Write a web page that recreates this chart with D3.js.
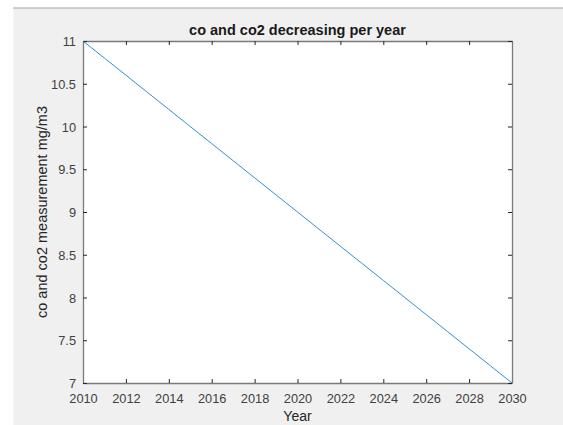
<!DOCTYPE html>
<html>
<head>
<meta charset="utf-8">
<script src="https://cdn.jsdelivr.net/npm/d3@7"></script>
<style>
html,body{margin:0;padding:0;background:#fff;}
svg{display:block;}
text{font-family:"Liberation Sans",Arial,Helvetica,sans-serif;}
</style>
</head>
<body>
<svg id="chart" width="563" height="425"></svg>
<script>
const years = [2010,2011,2012,2013,2014,2015,2016,2017,2018,2019,2020,2021,2022,2023,2024,2025,2026,2027,2028,2029,2030];
const values = [11,10.8,10.6,10.4,10.2,10,9.8,9.6,9.4,9.2,9,8.8,8.6,8.4,8.2,8,7.8,7.6,7.4,7.2,7];
const xTicks = [2010,2012,2014,2016,2018,2020,2022,2024,2026,2028,2030];
const yTicks = [7,7.5,8,8.5,9,9.5,10,10.5,11];
const titleText = "co and co2 decreasing per year";
const xLabelText = "Year";
const yLabelText = "co and co2 measurement mg/m3";

const svg = d3.select("#chart");
const W = 563, H = 425;
const m = {left:83, right:512, top:41, bottom:383};

svg.append("rect").attr("x",0).attr("y",0).attr("width",W).attr("height",H).attr("fill","#ffffff");
svg.append("rect").attr("x",13.5).attr("y",8.5).attr("width",W-13.5).attr("height",H-8.5).attr("fill","#f0f0f0");
svg.append("line").attr("x1",13).attr("x2",W).attr("y1",8).attr("y2",8).attr("stroke","#a0a0a0").attr("stroke-width",1.2);

const x = d3.scaleLinear().domain([2010,2030]).range([m.left,m.right]);
const y = d3.scaleLinear().domain([7,11]).range([m.bottom,m.top]);

svg.append("rect").attr("x",m.left).attr("y",m.top).attr("width",m.right-m.left).attr("height",m.bottom-m.top).attr("fill","#ffffff");

const tickLen = 4;
const fmt = d3.format("");
const gx = svg.append("g").attr("transform",`translate(0,${m.bottom})`)
  .call(d3.axisBottom(x).tickValues(xTicks).tickFormat(fmt).tickSizeInner(-tickLen).tickSizeOuter(0).tickPadding(11));
const gxt = svg.append("g").attr("transform",`translate(0,${m.top})`)
  .call(d3.axisTop(x).tickValues(xTicks).tickFormat("").tickSizeInner(-tickLen).tickSizeOuter(0));
const gy = svg.append("g").attr("transform",`translate(${m.left},0)`)
  .call(d3.axisLeft(y).tickValues(yTicks).tickFormat(fmt).tickSizeInner(-tickLen).tickSizeOuter(0).tickPadding(7));
const gyr = svg.append("g").attr("transform",`translate(${m.right},0)`)
  .call(d3.axisRight(y).tickValues(yTicks).tickFormat("").tickSizeInner(-tickLen).tickSizeOuter(0));

[gx,gxt,gy,gyr].forEach(g=>{
  g.attr("font-size",null).attr("font-family",null);
  g.select(".domain").attr("stroke","#7a7a7a").attr("stroke-width",1.3);
  g.selectAll(".tick line").attr("stroke","#262626").attr("stroke-width",1);
  g.selectAll(".tick text").attr("fill","#404040").style("font-size","12.8px").style("font-family","'Liberation Sans',Arial,sans-serif");
});
gx.selectAll(".tick text").attr("dy","0.71em");
gy.selectAll(".tick text").attr("dy","0.36em");

const line = d3.line().x((d,i)=>x(years[i])).y(d=>y(d));
svg.append("path").datum(values).attr("d",line).attr("fill","none").attr("stroke","#0072BD").attr("stroke-width",0.8);

svg.append("text").attr("x",(m.left+m.right)/2).attr("y",35).attr("text-anchor","middle")
  .attr("fill","#1a1a1a").style("font-size","14.5px").style("font-weight","bold").text(titleText);
svg.append("text").attr("x",(m.left+m.right)/2).attr("y",421).attr("text-anchor","middle")
  .attr("fill","#262626").style("font-size","14px").text(xLabelText);
svg.append("text").attr("transform",`translate(47,${(m.top+m.bottom)/2}) rotate(-90)`).attr("text-anchor","middle")
  .attr("fill","#262626").style("font-size","14.5px").text(yLabelText);
</script>
</body>
</html>
